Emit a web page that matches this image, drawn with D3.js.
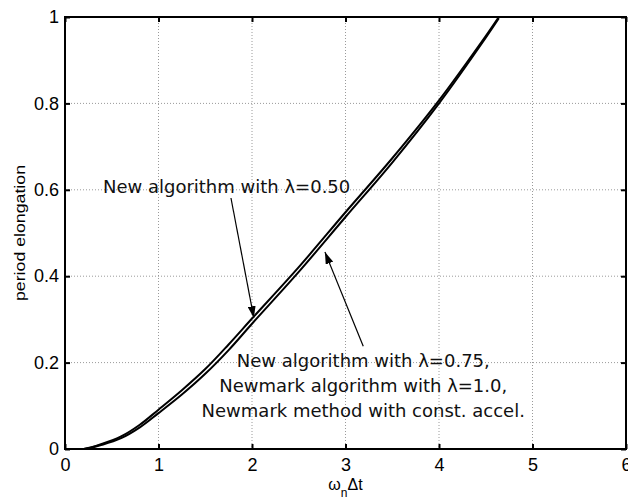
<!DOCTYPE html>
<html>
<head>
<meta charset="utf-8">
<script src="https://cdn.jsdelivr.net/npm/d3@7"></script>
<style>
  body { margin: 0; background: #fff; }
  svg { display: block; }
  .tick text { font-family: "Liberation Sans", Arial, sans-serif; }
</style>
</head>
<body>
<div id="chart"></div>
<script>
// values
const xTicks = [0, 1, 2, 3, 4, 5, 6];
const yTicks = [0, 0.2, 0.4, 0.6, 0.8, 1];
const omegaDt = [0, 0.2, 0.4, 0.6, 0.8, 1, 1.25, 1.5, 1.75, 2, 2.5, 3, 3.5, 4, 4.5, 4.64];
const elongLambda050 = [0, 0, 0.012, 0.029, 0.056, 0.091, 0.136, 0.185, 0.242, 0.302, 0.421, 0.548, 0.673, 0.807, 0.956, 1.0];
const elongLambda075 = [0, 0, 0.010, 0.025, 0.050, 0.083, 0.126, 0.174, 0.229, 0.290, 0.410, 0.537, 0.663, 0.800, 0.952, 0.997];

const labelTop = ['New algorithm with λ=0.50'];
const labelBottom = [
  'New algorithm with λ=0.75,',
  'Newmark algorithm with λ=1.0,',
  'Newmark method with const. accel.'
];

const margin = { left: 65, top: 17, right: 2, bottom: 51 };
const W = 628, H = 500;
const width = W - margin.left - margin.right;
const height = H - margin.top - margin.bottom;

const svg = d3.select('#chart').append('svg')
  .attr('width', W)
  .attr('height', H);

const defs = svg.append('defs');

const g = svg.append('g')
  .attr('transform', `translate(${margin.left}, ${margin.top})`);

const xScale = d3.scaleLinear().domain([0, 6]).range([0, width]);
const yScale = d3.scaleLinear().domain([0, 1]).range([height, 0]);

//
// grid
//
g.append('g').selectAll('line')
  .data(xTicks.slice(1, -1))
  .enter().append('line')
    .attr('x1', d => xScale(d)).attr('x2', d => xScale(d))
    .attr('y1', 0).attr('y2', height)
    .attr('stroke', '#9a9a9a')
    .attr('stroke-dasharray', '1,2');

g.append('g').selectAll('line')
  .data(yTicks.slice(1, -1))
  .enter().append('line')
    .attr('y1', d => yScale(d)).attr('y2', d => yScale(d))
    .attr('x1', 0).attr('x2', width)
    .attr('stroke', '#9a9a9a')
    .attr('stroke-dasharray', '1,2');

//
// curves
//
defs.append('clipPath').attr('id', 'plotclip')
  .append('rect').attr('width', width).attr('height', height);

const line = d3.line()
  .x(d => xScale(d[0]))
  .y(d => yScale(d[1]))
  .curve(d3.curveCatmullRom.alpha(0.5));

const curves = [elongLambda050, elongLambda075];
g.append('g').attr('clip-path', 'url(#plotclip)')
  .selectAll('path')
  .data(curves)
  .enter().append('path')
    .attr('d', vals => line(omegaDt.map((x, i) => [x, vals[i]])))
    .attr('fill', 'none')
    .attr('stroke', '#000')
    .attr('stroke-width', 2);

//
// axes (matlab style: inward ticks on all sides)
//
const tickFont = 18;
const xAxis = d3.axisBottom(xScale).tickValues(xTicks).tickSize(-5).tickPadding(9).tickFormat(d3.format('d'));
const yAxis = d3.axisLeft(yScale).tickValues(yTicks).tickSize(-5).tickPadding(6).tickFormat(d => d === 0 || d === 1 ? d : d3.format('.1f')(d));

g.append('g').attr('transform', `translate(0, ${height})`).call(xAxis);
g.append('g').call(yAxis);
g.append('g').call(d3.axisTop(xScale).tickValues(xTicks).tickSize(-5).tickFormat(''));
g.append('g').attr('transform', `translate(${width}, 0)`).call(d3.axisRight(yScale).tickValues(yTicks).tickSize(-5).tickFormat(''));

g.selectAll('.domain').remove();
g.selectAll('.tick line').attr('stroke', '#000').attr('stroke-width', 2);
g.selectAll('.tick text').style('font-size', `${tickFont}px`).attr('fill', '#000');

g.append('rect')
  .attr('width', width).attr('height', height)
  .attr('fill', 'none').attr('stroke', '#000').attr('stroke-width', 2);

//
// axis labels
//
const xl = svg.append('text')
  .attr('x', margin.left + width / 2)
  .attr('y', 490)
  .attr('text-anchor', 'middle')
  .style('font-family', '"Liberation Sans", Arial, sans-serif')
  .style('font-size', '16px');
xl.append('tspan').text('ω');
xl.append('tspan').attr('dy', 7).style('font-size', '12px').text('n');
xl.append('tspan').attr('dy', -7).text('Δt');

svg.append('text')
  .attr('transform', `translate(25, ${margin.top + height / 2}) rotate(-90)`)
  .attr('text-anchor', 'middle')
  .attr('textLength', 136)
  .attr('lengthAdjust', 'spacingAndGlyphs')
  .style('font-family', '"Liberation Sans", Arial, sans-serif')
  .style('font-size', '15px')
  .text('period elongation');

//
// annotations
//
defs.append('marker')
  .attr('id', 'head')
  .attr('viewBox', '0 0 12 8')
  .attr('refX', 12).attr('refY', 4)
  .attr('markerWidth', 12).attr('markerHeight', 8)
  .attr('markerUnits', 'userSpaceOnUse')
  .attr('orient', 'auto')
  .append('path').attr('d', 'M0,0 L12,4 L0,8 Z').attr('fill', '#000');

const arrows = [
  { from: [1.775, 0.581], to: [2.02, 0.303] },
  { from: [3.19, 0.238], to: [2.78, 0.456] }
];
g.append('g').selectAll('line')
  .data(arrows)
  .enter().append('line')
    .attr('x1', d => xScale(d.from[0])).attr('y1', d => yScale(d.from[1]))
    .attr('x2', d => xScale(d.to[0])).attr('y2', d => yScale(d.to[1]))
    .attr('stroke', '#000').attr('stroke-width', 1.2)
    .attr('marker-end', 'url(#head)');

const annFont = 'Tahoma, "DejaVu Sans", Verdana, sans-serif';

g.append('text')
  .attr('x', xScale(0.406)).attr('y', yScale(0.593))
  .style('font-family', annFont)
  .style('font-size', '18px')
  .attr('fill', '#111')
  .text(labelTop[0]);

g.append('g').selectAll('text')
  .data(labelBottom)
  .enter().append('text')
    .attr('x', xScale(3.19))
    .attr('y', (d, i) => yScale(0.19) + i * 25)
    .attr('text-anchor', 'middle')
    .style('font-family', annFont)
    .style('font-size', '18px')
    .attr('fill', '#111')
    .text(d => d);
</script>
</body>
</html>
